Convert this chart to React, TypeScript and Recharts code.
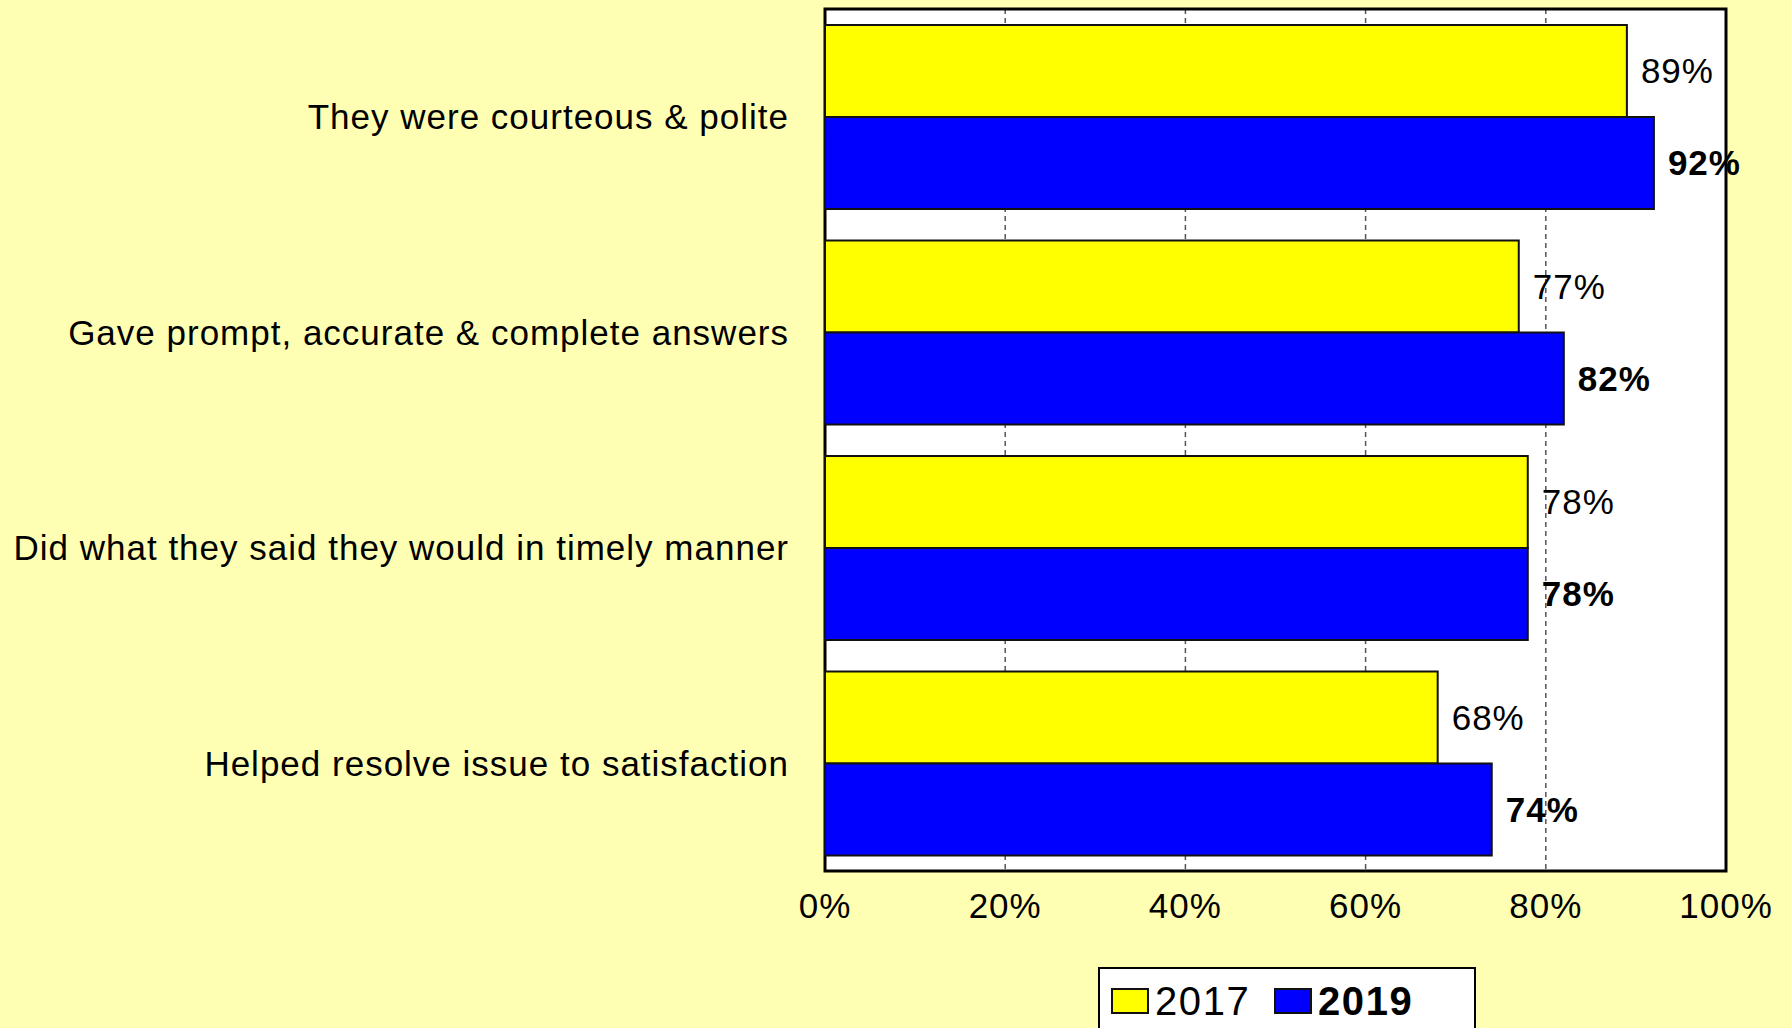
import React from 'react';
import {
  BarChart,
  Bar,
  XAxis,
  YAxis,
  CartesianGrid,
  ReferenceArea,
  LabelList,
} from 'recharts';

const categories = [
  'They were courteous & polite',
  'Gave prompt, accurate & complete answers',
  'Did what they said they would in timely manner',
  'Helped resolve issue to satisfaction',
];
const values2017 = [89, 77, 78, 68];
const values2019 = [92, 82, 78, 74];
const xTicks = [0, 20, 40, 60, 80, 100];
const seriesNames = ['2017', '2019'];
const seriesColors = ['#FFFF00', '#0000FF'];

const data = categories.map((name, i) => ({
  name,
  y2017: values2017[i],
  y2019: values2019[i],
}));

const FONT = '"Liberation Sans", Arial, sans-serif';
const pct = (v: any) => `${v}%`;

// the source text is a touch wider than Liberation Sans, so add a bit of spacing
const textStyle = { fontSize: 35, fill: '#000', fontFamily: FONT, letterSpacing: 1 };

export default function App() {
  return (
    <div
      style={{
        position: 'absolute',
        left: 0,
        top: 0,
        width: 1791,
        height: 1028,
        background: '#FFFFB3',
        fontFamily: FONT,
        overflow: 'hidden',
      }}
    >
      <BarChart
        width={1791}
        height={1028}
        data={data}
        layout="vertical"
        margin={{ top: 9, right: 65, left: 0, bottom: 0 }}
        barCategoryGap={16}
        barGap={0}
      >
        <CartesianGrid
          horizontal={false}
          fill="#FFFFFF"
          stroke="#555"
          strokeWidth={1.5}
          strokeDasharray="5 4"
        />
        <XAxis
          type="number"
          domain={[0, 100]}
          ticks={xTicks}
          tickFormatter={pct}
          axisLine={false}
          tickLine={false}
          tickSize={6}
          tickMargin={16}
          height={157}
          tick={textStyle}
        />
        <YAxis
          type="category"
          dataKey="name"
          width={825}
          axisLine={false}
          tickLine={false}
          tickSize={6}
          tickMargin={30}
          tick={textStyle}
        />
        <ReferenceArea
          x1={0}
          x2={100}
          fill="none"
          stroke="#000"
          strokeWidth={3}
        />
        <Bar
          dataKey="y2017"
          name={seriesNames[0]}
          fill={seriesColors[0]}
          stroke="#111"
          strokeWidth={2}
          isAnimationActive={false}
        >
          <LabelList
            dataKey="y2017"
            position="right"
            offset={14}
            formatter={pct}
            style={textStyle}
          />
        </Bar>
        <Bar
          dataKey="y2019"
          name={seriesNames[1]}
          fill={seriesColors[1]}
          stroke="#111"
          strokeWidth={2}
          isAnimationActive={false}
        >
          <LabelList
            dataKey="y2019"
            position="right"
            offset={14}
            formatter={pct}
            style={{ ...textStyle, fontWeight: 'bold' }}
          />
        </Bar>
      </BarChart>

      {/* legend box, runs off the bottom edge like the original */}
      <div
        style={{
          position: 'absolute',
          left: 1098,
          top: 967,
          width: 378,
          height: 80,
          background: '#fff',
          border: '2px solid #000',
          boxSizing: 'border-box',
        }}
      >
        {seriesNames.map((s, i) => (
          <div
            key={s}
            style={{
              position: 'absolute',
              left: i === 0 ? 11 : 174,
              top: 17,
              display: 'flex',
              alignItems: 'center',
              height: 30,
            }}
          >
            <span
              style={{
                display: 'inline-block',
                width: 38,
                height: 26,
                background: seriesColors[i],
                border: '2px solid #111',
                boxSizing: 'border-box',
                marginRight: 6,
              }}
            />
            <span
              style={{
                fontSize: 40,
                lineHeight: '30px',
                letterSpacing: 1.6,
                fontWeight: i === 1 ? 'bold' : 'normal',
                color: '#000',
              }}
            >
              {s}
            </span>
          </div>
        ))}
      </div>
    </div>
  );
}
